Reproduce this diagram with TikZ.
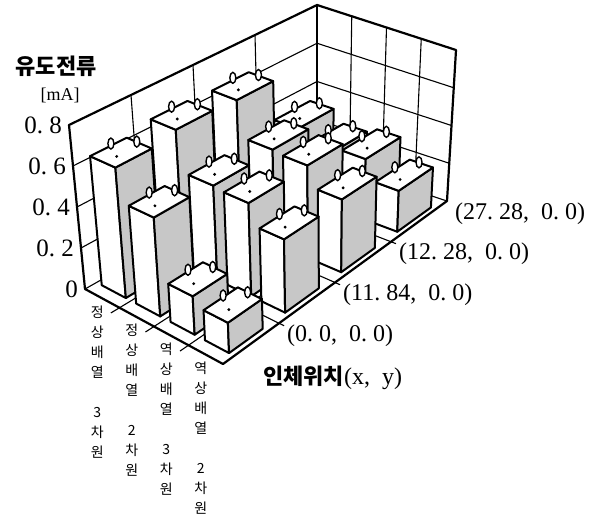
\documentclass[tikz,border=0pt]{standalone}
\usepackage{fontspec}
\setmainfont{Liberation Serif}
\newfontfamily\kr{Noto Sans CJK KR}
% screen position of a point (u = array, v = position, h = current in mA)
\pgfmathdeclarefunction{scrx}{3}{\pgfmathparse{85+34.5*(#1)+58*(#2)-0.5*(#1)*(#2)+1.25*(#3)*(-16+2.25*(#1)+4*(#2))}}
\pgfmathdeclarefunction{scry}{3}{\pgfmathparse{-289-18.75*(#1)+32.75*(#2)+2*(#1)*(#2)+1.25*(#3)*(164+2.75*(#1)-2.75*(#2)-0.8125*(#1)*(#2))}}
\newcommand\gp[4]{\coordinate (#1) at ({scrx(#2,#3,#4)},{scry(#2,#3,#4)});}
\tikzset{
  wallline/.style={line width=2.2pt,line join=round},
  gridline/.style={line width=1.1pt},
  bar/.style={line width=2pt,line join=round},
  ring/.style={line width=1.4pt,fill=white},
  ticklabel/.style={font=\fontsize{25}{25}\selectfont,inner sep=0pt,anchor=east},
  poslabel/.style={font=\fontsize{24}{24}\selectfont,inner sep=0pt,anchor=west},
  catlabel/.style={font=\kr\fontsize{14}{20}\selectfont,align=center,anchor=north,inner sep=0pt},
}
\begin{document}
\begin{tikzpicture}[x=1pt,y=1pt]
  \useasboundingbox (0,-521) rectangle (601,0);
  % walls and floor
  \gp{o}{0}{0}{0} \gp{f}{4}{0}{0} \gp{r}{4}{4}{0} \gp{b}{0}{4}{0}
  \gp{ot}{0}{0}{0.8} \gp{rt}{4}{4}{0.8} \gp{bt}{0}{4}{0.8}
  \foreach \k in {0.2,0.4,0.6}{
    \gp{ga}{0}{0}{\k} \gp{gb}{0}{4}{\k} \gp{gc}{4}{4}{\k}
    \draw[gridline] (ga) -- (gb) -- (gc);
  }
  \foreach \k in {1,2,3}{
    \gp{ga}{0}{\k}{0} \gp{gb}{0}{\k}{0.8} \draw[gridline] (ga) -- (gb);
    \gp{ga}{\k}{4}{0} \gp{gb}{\k}{4}{0.8} \draw[gridline] (ga) -- (gb);
    \gp{ga}{\k}{-0.15}{0} \gp{gb}{\k}{4}{0} \draw[gridline] (ga) -- (gb);
    \gp{ga}{0}{\k}{0} \gp{gb}{4.15}{\k}{0} \draw[gridline] (ga) -- (gb);
  }
  \draw[gridline] (o) -- (b) -- (r);
  \draw[gridline,line width=1.5pt] (b) -- (bt);
  \draw[wallline] (o) -- (ot) -- (bt) -- (rt) -- (r) -- (f) -- cycle;
  % bars, back to front
  \foreach \i/\j/\h in {0/3/0.34,1/3/0.28,2/3/0.31,3/3/0.21,
                        0/2/0.65,1/2/0.47,2/2/0.46,3/2/0.36,
                        0/1/0.66,1/1/0.46,2/1/0.45,3/1/0.35,
                        0/0/0.63,1/0/0.47,2/0/0.18,3/0/0.14}{
    \pgfmathsetmacro\ua{\i+0.15}\pgfmathsetmacro\ub{\i+0.85}
    \pgfmathsetmacro\va{\j+0.2}\pgfmathsetmacro\vb{\j+0.8}
    \gp{b1}{\ua}{\va}{0} \gp{b2}{\ub}{\va}{0} \gp{b3}{\ub}{\vb}{0}
    \gp{t1}{\ua}{\va}{\h} \gp{t2}{\ub}{\va}{\h} \gp{t3}{\ub}{\vb}{\h} \gp{t4}{\ua}{\vb}{\h}
    \draw[bar,fill=white] (b1) -- (b2) -- (t2) -- (t1) -- cycle;
    \draw[bar,fill=black!22] (b2) -- (b3) -- (t3) -- (t2) -- cycle;
    \draw[bar,fill=white] (t1) -- (t2) -- (t3) -- (t4) -- cycle;
    \gp{r1}{\ua+0.07}{\j+0.5}{\h} \gp{r2}{\i+0.55}{\vb-0.07}{\h} \gp{d}{\i+0.55}{\j+0.4}{\h}
    \draw[ring] (r1) ++(0,4.5) ellipse (3 and 5.5);
    \draw[ring] (r2) ++(0,4.5) ellipse (3 and 5.5);
    \fill (d) circle (1.6);
  }
  % axis labels
  \foreach \k/\n/\t in {0/0/0,0.2/1/{0.\ 2},0.4/2/{0.\ 4},0.6/3/{0.\ 6},0.8/4/{0.\ 8}}
    \node[ticklabel] (y\n) at ({scrx(0,0,\k)-7},{scry(0,0,\k)}) {\t};
  \node[font=\kr\bfseries\fontsize{22}{22}\selectfont] (qty) at (56,-66) {유도전류};
  \node[font=\fontsize{18}{18}\selectfont] (unit) at (60,-95) {[mA]};
  \foreach \i/\t in {0/{정\\상\\배\\열\\[20pt]3\\차\\원},1/{정\\상\\배\\열\\[20pt]2\\차\\원},
                     2/{역\\상\\배\\열\\[20pt]3\\차\\원},3/{역\\상\\배\\열\\[20pt]2\\차\\원}}
    \node[catlabel] (c\i) at ({scrx(\i+0.5,0,0)-5},{scry(\i+0.5,0,0)-7}) {\t};
  \foreach \v/\n/\t in {0.5/0/{(0.\ 0,\ \ 0.\ 0)},1.5/1/{(11.\ 84,\ \ 0.\ 0)},
                        2.5/2/{(12.\ 28,\ \ 0.\ 0)},3.5/3/{(27.\ 28,\ \ 0.\ 0)}}
    \node[poslabel] (p\n) at ({scrx(4,\v,0)+36},{scry(4,\v,0)+8}) {\t};
  \node[anchor=west,inner sep=0pt] (pos) at (263,-378)
    {{\kr\bfseries\fontsize{22}{22}\selectfont 인체위치}{\fontsize{24}{24}\selectfont(x,\ \ y)}};
\end{tikzpicture}
\end{document}
